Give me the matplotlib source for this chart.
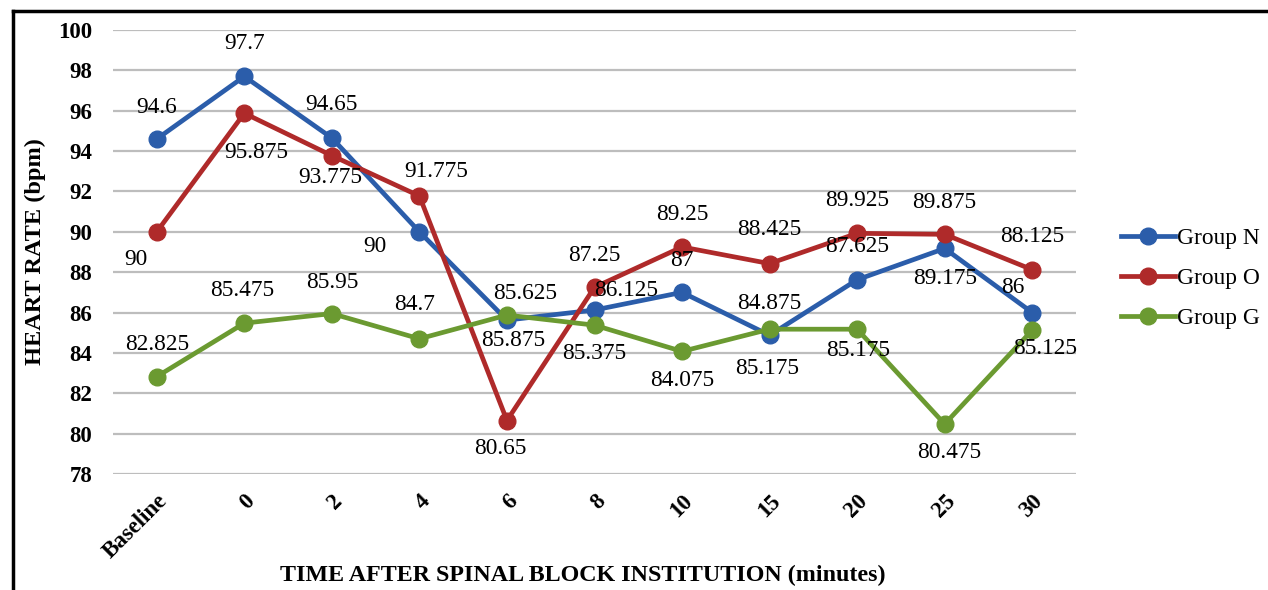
import matplotlib
matplotlib.use("Agg")
import matplotlib.pyplot as plt
from matplotlib.lines import Line2D

# ---- data ----
categories = ["Baseline", "0", "2", "4", "6", "8", "10", "15", "20", "25", "30"]
group_n = [94.6, 97.7, 94.65, 90, 85.625, 86.125, 87, 84.875, 87.625, 89.175, 86]
group_o = [90, 95.875, 93.775, 91.775, 80.65, 87.25, 89.25, 88.425, 89.925, 89.875, 88.125]
group_g = [82.825, 85.475, 85.95, 84.7, 85.875, 85.375, 84.075, 85.175, 85.175, 80.475, 85.125]
series_names = ["Group N", "Group O", "Group G"]
y_ticks = [78, 80, 82, 84, 86, 88, 90, 92, 94, 96, 98, 100]

# ---- styles / label offsets (pixels) ----
colors = ["#2B5DAA", "#AF2A2A", "#6B9A31"]
offs_n = [(0, 31), (0, 33), (0, 33), (-45, -15), (18, 27), (32, 20), (0, 32), (0, 32), (0, 33), (0, -30), (-19, 25)]
offs_o = [(-21, -28), (12, -39), (-2, -22), (17, 24), (-7, -28), (0, 32), (0, 32), (0, 34), (0, 33), (0, 32), (0, 33)]
offs_g = [(0, 32), (-2, 33), (0, 31), (-5, 34), (6, -25), (0, -28), (0, -29), (-2, -39), (1, -21), (5, -28), (13, -18)]

plt.rcParams["font.family"] = ["Liberation Serif", "DejaVu Serif"]

fig = plt.figure(figsize=(12.68, 5.90), dpi=100)
ax = fig.add_axes([113 / 1268, 1 - 474 / 590, (1076 - 113) / 1268, (474 - 30) / 590])

x = list(range(len(categories)))
all_series = [group_n, group_o, group_g]
all_offs = [offs_n, offs_o, offs_g]
for vals, name, col in zip(all_series, series_names, colors):
    ax.plot(x, vals, color=col, lw=3.4, marker="o", ms=12, label=name, zorder=3,
            solid_joinstyle="round")
for vals, offs in zip(all_series, all_offs):
    for xi, v, (dx, dy) in zip(x, vals, offs):
        ax.annotate(f"{v:g}", (xi, v), xytext=(dx, dy), textcoords="offset pixels",
                    ha="center", va="center", fontsize=16.8, color="black", zorder=4)

ax.set_xlim(-0.5, len(categories) - 0.5)
ax.set_ylim(78, 100)
ax.set_yticks(y_ticks)
ax.set_yticklabels([str(t) for t in y_ticks], fontsize=16.5, fontweight="bold")
ax.set_xticks(x)
ax.set_xticklabels(categories, fontsize=16.5, fontweight="bold", rotation=45,
                   ha="right", va="top", rotation_mode="anchor")
ax.tick_params(axis="both", length=0)
ax.tick_params(axis="y", pad=15)
ax.tick_params(axis="x", pad=12)
ax.grid(axis="y", color="#BDBDBD", lw=1.6, zorder=0)
for s in ax.spines.values():
    s.set_visible(False)

fig.text(35 / 1268, 1 - 252 / 590, "HEART RATE (bpm)", rotation=90,
         ha="center", va="center", fontsize=17.5, fontweight="bold")
fig.text(583 / 1268, 1 - 575 / 590, "TIME AFTER SPINAL BLOCK INSTITUTION (minutes)",
         ha="center", va="center", fontsize=17.3, fontweight="bold")

fig.legend(loc="center left", bbox_to_anchor=(1121 / 1268, 1 - 278 / 590), frameon=False,
           fontsize=16.8, handlelength=2.3, handletextpad=0.12, labelspacing=0.8,
           borderpad=0, borderaxespad=0)

# frame lines (left and top)
fig.add_artist(Line2D([13 / 1268, 13 / 1268], [0, 1 - 11 / 590], transform=fig.transFigure,
                      color="black", lw=2.5))
fig.add_artist(Line2D([13 / 1268, 1], [1 - 11 / 590, 1 - 11 / 590], transform=fig.transFigure,
                      color="black", lw=2.5))

fig.savefig("out.png", dpi=100)
